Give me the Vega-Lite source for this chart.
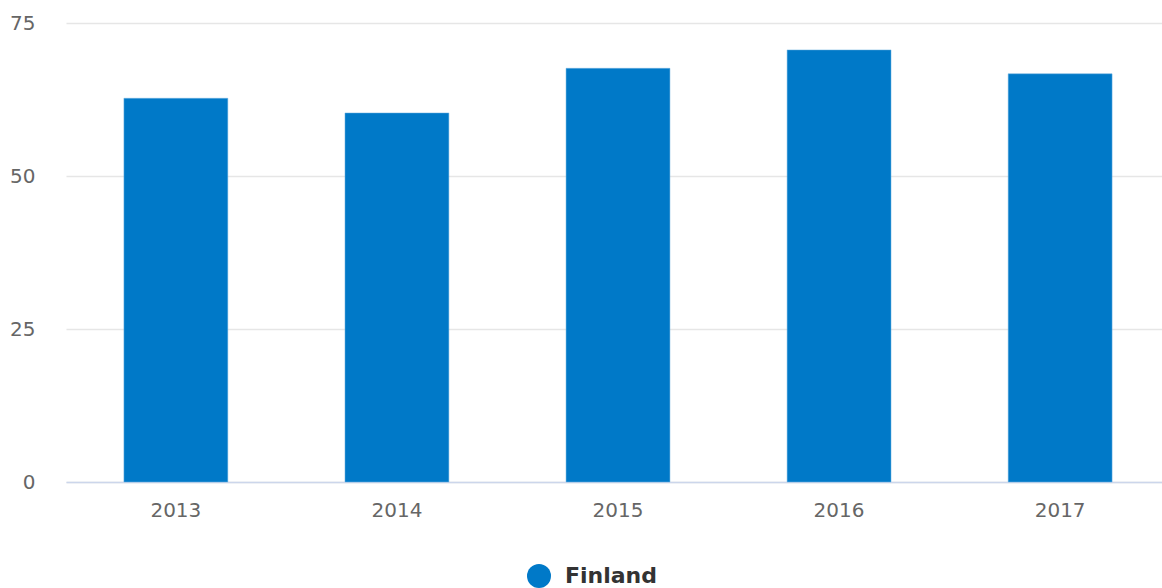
{
  "$schema": "https://vega.github.io/schema/vega-lite/v6.json",
  "width": 1104,
  "height": 459,
  "autosize": {"type": "none"},
  "padding": {"left": 66, "top": 23, "right": -8, "bottom": 106},
  "background": "white",
  "config": {
    "view": {"stroke": null},
    "font": "DejaVu Sans"
  },
  "data": {
    "values": [
      {"year": "2013", "value": 62.7, "country": "Finland"},
      {"year": "2014", "value": 60.3, "country": "Finland"},
      {"year": "2015", "value": 67.6, "country": "Finland"},
      {"year": "2016", "value": 70.6, "country": "Finland"},
      {"year": "2017", "value": 66.7, "country": "Finland"}
    ]
  },
  "mark": {"type": "bar", "stroke": "#6fb3e0", "strokeWidth": 0.5},
  "encoding": {
    "x": {
      "field": "year",
      "type": "ordinal",
      "scale": {"paddingInner": 0.53, "paddingOuter": 0.262},
      "axis": {
        "title": null,
        "labelAngle": 0,
        "labelFont": "DejaVu Sans",
        "labelFontSize": 20,
        "labelColor": "#666666",
        "labelPadding": 18,
        "ticks": false,
        "domainColor": "#ccd6eb",
        "domainWidth": 1.5,
        "grid": false
      }
    },
    "y": {
      "field": "value",
      "type": "quantitative",
      "scale": {"domain": [0, 75], "nice": false},
      "axis": {
        "title": null,
        "values": [0, 25, 50, 75],
        "labelFont": "DejaVu Sans",
        "labelFontSize": 20,
        "labelColor": "#666666",
        "labelPadding": 31,
        "ticks": false,
        "domain": false,
        "grid": true,
        "gridColor": "#e6e6e6",
        "gridWidth": 1.5
      }
    },
    "color": {
      "field": "country",
      "type": "nominal",
      "scale": {"range": ["#0079c8"]},
      "legend": {
        "title": null,
        "orient": "none",
        "legendX": 461,
        "legendY": 541,
        "symbolType": "circle",
        "symbolSize": 576,
        "symbolStrokeWidth": 0,
        "labelFont": "DejaVu Sans",
        "labelFontSize": 22,
        "labelFontWeight": "bold",
        "labelColor": "#333333",
        "labelOffset": 14
      }
    }
  }
}
